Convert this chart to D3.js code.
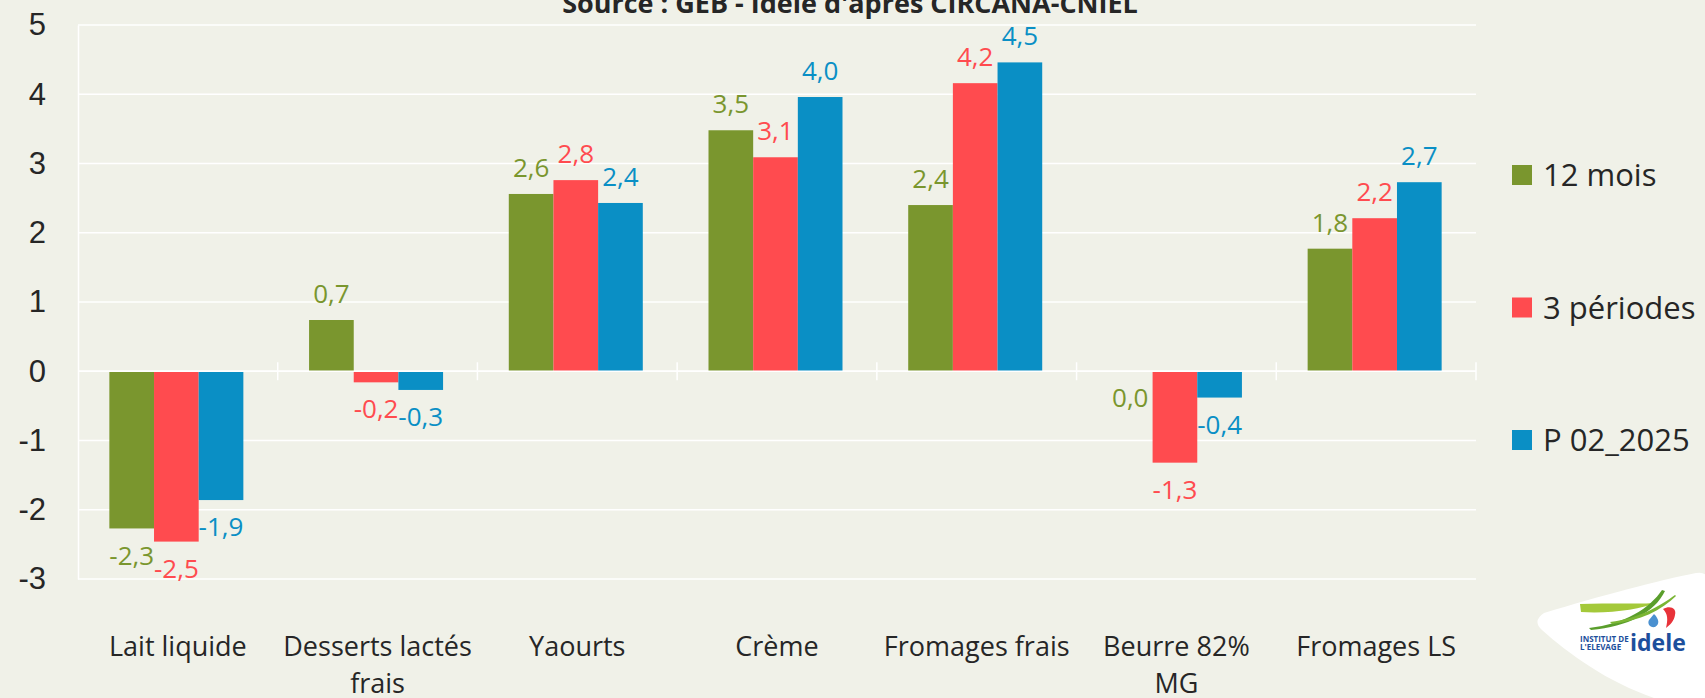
<!DOCTYPE html>
<html>
<head>
<meta charset="utf-8">
<style>
  html, body { margin: 0; padding: 0; background: #f0f1e8; }
  svg { display: block; font-family: "Open Sans", sans-serif; }
</style>
</head>
<body>
<div id="chart"></div>
<script src="https://d3js.org/d3.v7.min.js"></script>
<script>
  // Categories and series
  const categories = ["Lait liquide", "Desserts lactés frais", "Yaourts", "Crème", "Fromages frais", "Beurre 82% MG", "Fromages LS"];
  const categoryLines = [["Lait liquide"], ["Desserts lactés", "frais"], ["Yaourts"], ["Crème"], ["Fromages frais"], ["Beurre 82%", "MG"], ["Fromages LS"]];
  const seriesNames = ["12 mois", "3 périodes", "P 02_2025"];
  const serie12mois = [-2.27, 0.74, 2.56, 3.48, 2.40, 0.0, 1.77];
  const serie3periodes = [-2.46, -0.16, 2.76, 3.09, 4.16, -1.32, 2.21];
  const serieP022025 = [-1.86, -0.27, 2.43, 3.96, 4.46, -0.38, 2.73];
  const yTicks = [-3, -2, -1, 0, 1, 2, 3, 4, 5];
  const colors = ["#7a962e", "#ff4b4f", "#0a8fc5"];
  const title = "Source : GEB - Idele d'après CIRCANA-CNIEL";

  const seriesValues = [serie12mois, serie3periodes, serieP022025];

  const W = 1705, H = 698;
  const plot = { left: 78, right: 1476, top: 25, bottom: 579 };

  const svg = d3.select("#chart").append("svg")
    .attr("width", W)
    .attr("height", H);

  svg.append("rect").attr("width", W).attr("height", H).attr("fill", "#f0f1e8");

  const x = d3.scaleBand().domain(categories).range([plot.left, plot.right]).padding(0);
  const groupW = 134;
  const x1 = d3.scaleBand().domain(seriesNames)
    .range([(x.bandwidth() - groupW) / 2 - 1.5, (x.bandwidth() + groupW) / 2 - 1.5]);
  const y = d3.scaleLinear().domain([-3, 5]).range([plot.bottom, plot.top]);

  // gridlines
  svg.append("g")
    .selectAll("line")
    .data(yTicks)
    .join("line")
    .attr("x1", plot.left).attr("x2", plot.right)
    .attr("y1", d => y(d)).attr("y2", d => y(d))
    .attr("stroke", "#ffffff")
    .attr("stroke-width", 1.5);

  // y axis
  const yAxis = svg.append("g")
    .attr("transform", `translate(${plot.left},0)`)
    .call(d3.axisLeft(y).tickValues(yTicks).tickSize(0).tickPadding(32).tickFormat(d3.format("d")));
  yAxis.select(".domain").attr("stroke", "#ffffff").attr("stroke-width", 1.5);
  yAxis.selectAll("text")
    .attr("fill", "#262626")
    .style("font-size", "31px")
    .text(d => d < 0 ? "-" + Math.abs(d) : d);

  // bars
  const groups = svg.append("g")
    .selectAll("g")
    .data(categories)
    .join("g")
    .attr("transform", d => `translate(${x(d)},0)`);

  groups.selectAll("rect")
    .data((c, i) => seriesNames.map((s, j) => ({ s, j, v: seriesValues[j][i] })))
    .join("rect")
    .attr("x", d => x1(d.s))
    .attr("width", x1.bandwidth())
    .attr("y", d => y(Math.max(0, d.v)))
    .attr("height", d => Math.abs(y(d.v) - y(0)))
    .attr("fill", d => colors[d.j]);

  // zero axis with category separators
  const xAxis = svg.append("g")
    .attr("transform", `translate(0,${y(0)})`);
  xAxis.append("line")
    .attr("x1", plot.left).attr("x2", plot.right)
    .attr("stroke", "#ffffff").attr("stroke-width", 1.5);
  xAxis.selectAll(".sep")
    .data(categories.slice(1).concat(["end"]))
    .join("line")
    .attr("class", "sep")
    .attr("x1", (d, i) => plot.left + x.step() * (i + 1))
    .attr("x2", (d, i) => plot.left + x.step() * (i + 1))
    .attr("y1", -9).attr("y2", 9)
    .attr("stroke", "#ffffff").attr("stroke-width", 1.5);

  // value labels
  const fmt = v => v.toFixed(1).replace(".", ",");
  groups.selectAll("text.val")
    .data((c, i) => seriesNames.map((s, j) => ({ s, j, v: seriesValues[j][i] })))
    .join("text")
    .attr("class", "val")
    .attr("x", d => x1(d.s) + x1.bandwidth() / 2)
    .attr("y", d => d.v > 0 ? y(d.v) - 26 : y(d.v) + 27)
    .attr("dy", "0.35em")
    .attr("text-anchor", "middle")
    .attr("fill", d => colors[d.j])
    .style("font-size", "26px")
    .text(d => fmt(d.v));

  // category labels
  const catLabels = svg.append("g")
    .selectAll("text")
    .data(categories)
    .join("text")
    .attr("x", d => x(d) + x.bandwidth() / 2)
    .attr("y", 656)
    .attr("text-anchor", "middle")
    .attr("fill", "#262626")
    .style("font-size", "27px");
  catLabels.selectAll("tspan")
    .data((d, i) => categoryLines[i])
    .join("tspan")
    .attr("x", function () { return d3.select(this.parentNode).attr("x"); })
    .attr("dy", (d, i) => i === 0 ? 0 : 37)
    .text(d => d);

  // title (cut at top, as in the reference)
  svg.append("text")
    .attr("x", 850)
    .attr("y", 13)
    .attr("text-anchor", "middle")
    .attr("fill", "#262626")
    .style("font-size", "27px")
    .style("font-weight", "bold")
    .text(title);

  // legend
  const legend = svg.append("g")
    .selectAll("g")
    .data(seriesNames)
    .join("g")
    .attr("transform", (d, i) => `translate(1512,${175 + i * 132.5})`);
  legend.append("rect")
    .attr("y", -10).attr("width", 20).attr("height", 20)
    .attr("fill", (d, i) => colors[i]);
  legend.append("text")
    .attr("x", 31)
    .attr("dy", "0.36em")
    .attr("fill", "#262626")
    .style("font-size", "31px")
    .text(d => d);

  // logo (decoration)
  const logo = svg.append("g");
  logo.append("path")
    .attr("d", "M1544,613 C1600,596 1660,580 1696,573 Q1708,571 1708,582 L1708,700 L1660,700 C1610,684 1570,655 1542,630 Q1532,621 1544,613 Z")
    .attr("fill", "#ffffff");
  logo.append("path")
    .attr("d", "M1580,604 C1610,603 1640,604 1657,603 C1640,609 1610,614 1581,612 Z")
    .attr("fill", "#a4c93a");
  logo.append("path")
    .attr("d", "M1589,628 C1625,624 1650,608 1662,590 L1665,591 C1655,612 1628,627 1591,630 Z")
    .attr("fill", "#5a9e2c");
  logo.append("path")
    .attr("d", "M1610,622 C1640,618 1660,606 1675,595 L1676,596 C1662,610 1640,621 1612,624 Z")
    .attr("fill", "#7ab534");
  logo.append("path")
    .attr("d", "M1654,614 C1659,619 1660,624 1655,627 C1650,628 1647,624 1649,620 Z")
    .attr("fill", "#4a90d0");
  logo.append("path")
    .attr("d", "M1663,609 C1670,605 1677,608 1675,615 C1674,621 1670,625 1666,628 C1668,620 1668,614 1663,609 Z")
    .attr("fill", "#e8333a");
  logo.append("text").attr("x", 1580).attr("y", 642)
    .attr("fill", "#1d4f9c").style("font-size", "8px").style("font-weight", "bold").text("INSTITUT DE");
  logo.append("text").attr("x", 1580).attr("y", 650)
    .attr("fill", "#1d4f9c").style("font-size", "8px").style("font-weight", "bold").text("L'ELEVAGE");
  logo.append("text").attr("x", 1630).attr("y", 651)
    .attr("fill", "#1d4f9c").style("font-size", "23px").style("font-weight", "bold").text("idele");
</script>
</body>
</html>
